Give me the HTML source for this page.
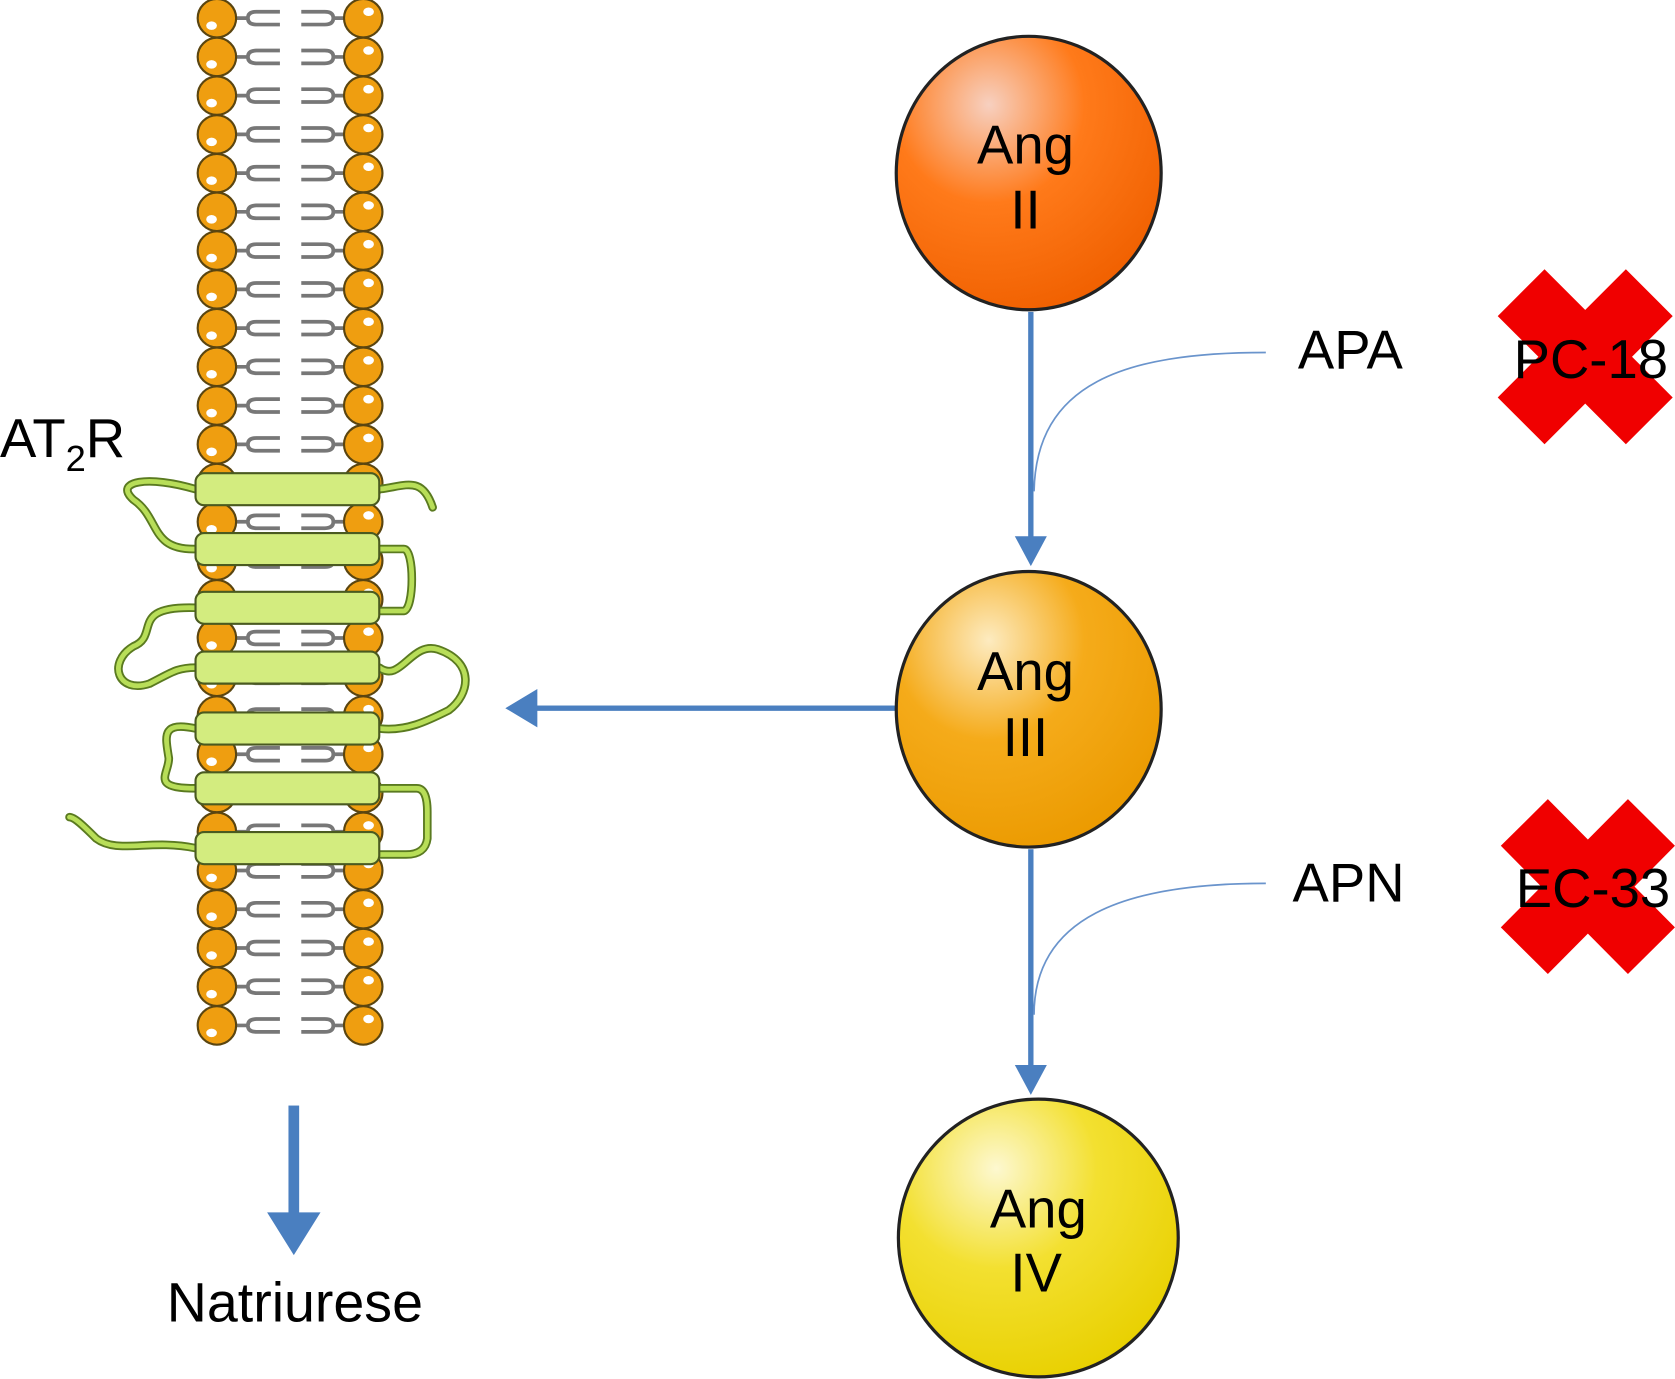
<!DOCTYPE html>
<html><head><meta charset="utf-8"><style>html,body{margin:0;padding:0;background:#fff}svg{display:block}</style></head>
<body>
<svg width="1675" height="1379" viewBox="0 0 1568 1291" xmlns="http://www.w3.org/2000/svg" font-family="Liberation Sans, sans-serif">
<defs>
<radialGradient id="g1" cx="0.35" cy="0.25" r="0.8"><stop offset="0" stop-color="#f7d0c0"/><stop offset="0.45" stop-color="#ff7a1a"/><stop offset="1" stop-color="#f06000"/></radialGradient>
<radialGradient id="g2" cx="0.35" cy="0.25" r="0.8"><stop offset="0" stop-color="#fdebc0"/><stop offset="0.45" stop-color="#f5ab1a"/><stop offset="1" stop-color="#eb9a00"/></radialGradient>
<radialGradient id="g3" cx="0.35" cy="0.25" r="0.8"><stop offset="0" stop-color="#fdf8d0"/><stop offset="0.45" stop-color="#f3e030"/><stop offset="1" stop-color="#e8d000"/></radialGradient>
<g id="row">
<path d="M221 0 H232 M262 -6 H240 Q232 -6 232 0 Q232 6 240 6 H262" fill="none" stroke="#777" stroke-width="3.5"/>
<path d="M322 0 H312 M282 -6 H304 Q312 -6 312 0 Q312 6 304 6 H282" fill="none" stroke="#777" stroke-width="3.5"/>
<circle cx="203" cy="0" r="18" fill="#ef9e10" stroke="#5a4510" stroke-width="2"/>
<ellipse cx="198" cy="7" rx="5" ry="4" fill="#fff"/>
<circle cx="340" cy="0" r="18" fill="#ef9e10" stroke="#5a4510" stroke-width="2"/>
<ellipse cx="345" cy="-6" rx="5" ry="4" fill="#fff"/>
</g>
</defs>
<rect width="1568" height="1291" fill="#fff"/>
<g>
<use href="#row" y="17"/><use href="#row" y="53.3"/><use href="#row" y="89.5"/><use href="#row" y="125.8"/><use href="#row" y="162.1"/><use href="#row" y="198.3"/><use href="#row" y="234.6"/><use href="#row" y="270.9"/><use href="#row" y="307.2"/><use href="#row" y="343.4"/><use href="#row" y="379.7"/><use href="#row" y="416"/><use href="#row" y="452.2"/><use href="#row" y="488.5"/><use href="#row" y="524.8"/><use href="#row" y="561"/><use href="#row" y="597.3"/><use href="#row" y="633.6"/><use href="#row" y="669.9"/><use href="#row" y="706.1"/><use href="#row" y="742.4"/><use href="#row" y="778.7"/><use href="#row" y="814.9"/><use href="#row" y="851.2"/><use href="#row" y="887.5"/><use href="#row" y="923.7"/><use href="#row" y="960"/>
</g>
<g fill="none" stroke-linecap="round" stroke-linejoin="round">
<g stroke="#5a7a20" stroke-width="8">
<path d="M183 458 C140 445 105 450 125 468 C150 485 140 515 183 514"/>
<path d="M355 458 C380 455 395 445 405 475"/>
<path d="M355 514 H378 C388 514 388 570 378 572 H355"/>
<path d="M183 569 C120 567 150 595 125 605 C100 620 110 650 140 640 C160 630 165 625 183 625"/>
<path d="M355 625 C375 640 385 600 410 608 C445 620 440 650 420 665 C400 675 380 685 355 682"/>
<path d="M183 682 C150 675 155 690 158 710 C158 725 140 738 183 738"/>
<path d="M355 738 H390 Q400 738 400 760 V785 Q398 800 380 800 H355"/>
<path d="M183 794 C140 785 110 800 90 785 C80 775 70 765 65 765"/>
</g>
<g stroke="#b8de58" stroke-width="4.5">
<path d="M183 458 C140 445 105 450 125 468 C150 485 140 515 183 514"/>
<path d="M355 458 C380 455 395 445 405 475"/>
<path d="M355 514 H378 C388 514 388 570 378 572 H355"/>
<path d="M183 569 C120 567 150 595 125 605 C100 620 110 650 140 640 C160 630 165 625 183 625"/>
<path d="M355 625 C375 640 385 600 410 608 C445 620 440 650 420 665 C400 675 380 685 355 682"/>
<path d="M183 682 C150 675 155 690 158 710 C158 725 140 738 183 738"/>
<path d="M355 738 H390 Q400 738 400 760 V785 Q398 800 380 800 H355"/>
<path d="M183 794 C140 785 110 800 90 785 C80 775 70 765 65 765"/>
</g>
</g>
<g fill="#d3ec7f" stroke="#4a5a20" stroke-width="2">
<rect x="183" y="443" width="172" height="30" rx="8"/>
<rect x="183" y="499" width="172" height="30" rx="8"/>
<rect x="183" y="554" width="172" height="30" rx="8"/>
<rect x="183" y="610" width="172" height="30" rx="8"/>
<rect x="183" y="667" width="172" height="30" rx="8"/>
<rect x="183" y="723" width="172" height="30" rx="8"/>
<rect x="183" y="779" width="172" height="30" rx="8"/>
</g>
<text x="0" y="428" font-size="51">AT<tspan font-size="34" dy="13">2</tspan><tspan dy="-13">R</tspan></text>
<g fill="#4a7fc0" stroke="none">
<rect x="270" y="1035" width="10" height="105"/>
<polygon points="250,1135 300,1135 275,1175"/>
<rect x="500" y="660.5" width="338" height="5"/>
<polygon points="473,663 503,645 503,681"/>
<rect x="962.5" y="292" width="5" height="212"/>
<polygon points="950,502 980,502 965,530"/>
<rect x="962.5" y="795" width="5" height="205"/>
<polygon points="950,997 980,997 965,1025"/>
</g>
<text x="276" y="1237" font-size="52" text-anchor="middle">Natriurese</text>
<g stroke="#222" stroke-width="3">
<ellipse cx="963" cy="162" rx="124" ry="128" fill="url(#g1)"/>
<ellipse cx="963" cy="664" rx="124" ry="129" fill="url(#g2)"/>
<ellipse cx="972" cy="1159" rx="131" ry="130" fill="url(#g3)"/>
</g>
<g font-size="51" text-anchor="middle">
<text x="960" y="153">Ang</text><text x="960" y="214">II</text>
<text x="960" y="646">Ang</text><text x="960" y="708">III</text>
<text x="972" y="1149">Ang</text><text x="970" y="1209">IV</text>
</g>
<path d="M1185 330 C1050 330 970 360 968 460" fill="none" stroke="#6a94cc" stroke-width="1.6"/>
<path d="M1185 827 C1050 827 968 860 968 950" fill="none" stroke="#6a94cc" stroke-width="1.6"/>
<text x="1215" y="345" font-size="51">APA</text>
<text x="1210" y="844" font-size="51">APN</text>
<g stroke="#f00000" stroke-width="62">
<line x1="1424" y1="274" x2="1544" y2="394"/><line x1="1544" y1="274" x2="1424" y2="394"/>
<line x1="1427" y1="770" x2="1546" y2="890"/><line x1="1546" y1="770" x2="1427" y2="890"/>
</g>
<text x="1417" y="354" font-size="51">PC-18</text>
<text x="1419" y="849" font-size="51">EC-33</text>
</svg>
</body></html>
